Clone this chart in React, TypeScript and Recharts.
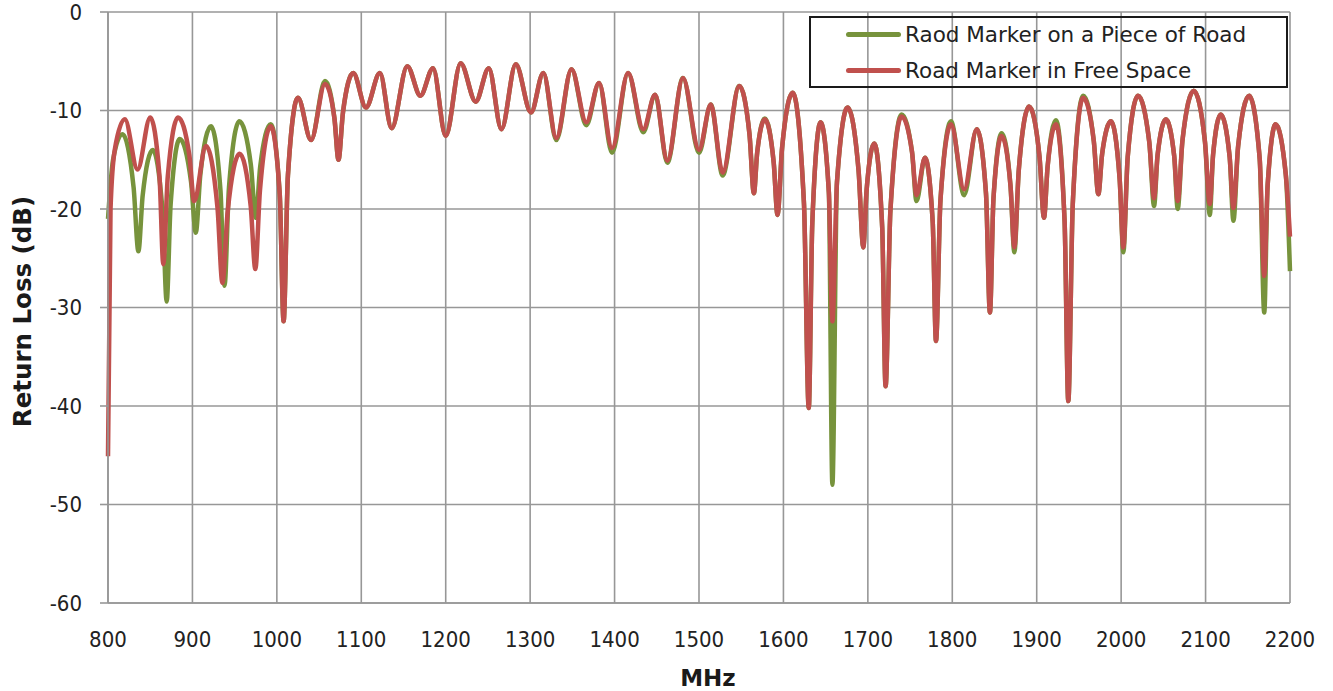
import { LineChart, Line, XAxis, YAxis, CartesianGrid, Label } from 'recharts';

// frequency ticks (MHz) and return loss ticks (dB)
const xTicks = [800, 900, 1000, 1100, 1200, 1300, 1400, 1500, 1600, 1700, 1800, 1900, 2000, 2100, 2200];
const yTicks = [-60, -50, -40, -30, -20, -10, 0];

const seriesNames = ['Raod Marker on a Piece of Road', 'Road Marker in Free Space'];
const seriesColors = ['#77933C', '#C0504D'];

// [MHz, dB]. below ~1000 MHz the two traces differ
const freeSpaceHead: [number, number][] = [
  [800, -45.1], [803, -20], [808, -14], [820, -10.9], [835, -16.0], [850, -10.7], [861, -16.7],
  [865.5, -25.6], [870.8, -16.7], [883, -10.7], [896.3, -14.5], [902, -19.2], [916, -13.6],
  [929.7, -19.9], [935.5, -27.5], [941.7, -20.3], [956, -14.4], [969, -19.7], [974.5, -26.1],
  [980, -18.1], [992.7, -11.6],
];

const roadHead: [number, number][] = [
  [800, -21], [806, -15], [817, -12.4], [830.3, -17.8], [836, -24.3], [841.1, -18.6], [853, -14.0],
  [864.6, -20.2], [869.5, -29.4], [874.2, -19.5], [885, -12.9], [898.3, -17.2], [904, -22.4],
  [909.4, -16.5], [922, -11.6], [933.2, -18.1], [938, -27.8], [943.3, -17.8], [955.5, -11.1],
  [969.2, -15.5], [975, -20.9], [980.3, -15.7], [992.7, -11.4],
];

// above ~1000 MHz both traces follow the same path (free space values)
const sharedTail: [number, number][] = [
  [1003.4, -18.5], [1008, -31.4], [1013.1, -16.6], [1025, -8.7], [1040.5, -13.0], [1057, -7.3],
  [1068.2, -10.8], [1073, -15.0], [1078.3, -10.2], [1090.5, -6.2], [1105.5, -9.7], [1122, -6.2],
  [1136, -11.8], [1154.5, -5.5], [1170, -8.5], [1185, -5.7], [1200, -12.6], [1217.7, -5.2],
  [1235.5, -9.1], [1251, -5.7], [1266, -11.9], [1283, -5.3], [1301, -10.2], [1315.6, -6.2],
  [1331, -12.8], [1349, -5.8], [1366.5, -11.2], [1381.6, -7.2], [1397, -13.8], [1416, -6.2],
  [1434, -11.9], [1448, -8.4], [1462.5, -15.1], [1481, -6.7], [1500, -14.0], [1514, -9.4],
  [1528, -16.3], [1547.7, -7.5], [1559.8, -12.4], [1565, -18.4], [1568.9, -14.3], [1578, -10.9],
  [1588.5, -15.3], [1593, -20.6], [1598.4, -13.8], [1611, -8.2], [1624.3, -19.4], [1630, -40.2],
  [1634.2, -21.4], [1644, -11.2], [1653.8, -18.3], [1658, -31.4], [1663.4, -17.3], [1676, -9.7],
  [1689, -16.1], [1694.6, -23.9], [1698.5, -18.1], [1707.6, -13.35], [1717, -21.9], [1721, -38.0],
  [1726.7, -20.2], [1740, -10.6], [1752.3, -14.2], [1757.6, -18.6], [1767.6, -14.8], [1776.8, -21.3],
  [1780.7, -33.4], [1786, -19.1], [1798.5, -11.4], [1814, -18.0], [1829, -11.9], [1839.9, -18.4],
  [1844.6, -30.5], [1848.8, -18.9], [1858.5, -12.6], [1869, -17.7], [1873.5, -23.9], [1878.8, -16.0],
  [1891, -9.6], [1903.3, -14.7], [1908.6, -20.9], [1912.9, -15.7], [1922.8, -11.4], [1933, -21.2],
  [1937.4, -39.5], [1942.7, -19.5], [1955, -8.7], [1967.6, -13.1], [1973, -18.5], [1977.5, -14.4],
  [1988, -11.1], [1998.2, -16.9], [2002.6, -23.9], [2007.8, -14.7], [2020, -8.5], [2033.3, -13.2],
  [2039, -18.9], [2043.2, -14.5], [2053, -10.9], [2062.8, -14.6], [2067, -19.2], [2072.7, -13.0],
  [2086, -8.0], [2099.3, -13.2], [2105, -19.5], [2108.9, -14.5], [2118, -10.4], [2128.5, -14.7],
  [2133, -19.9], [2138.6, -13.6], [2151.6, -8.5], [2164.1, -14.9], [2169.5, -26.8], [2173.5, -17.6],
  [2183, -11.4], [2195, -16.5], [2200, -22.8],
];

// places where the on-road trace goes its own way (mostly deeper nulls)
const roadDiffs: [number, number][] = [
  [1057, -7.0], [1331, -13.0], [1366.5, -11.5], [1397, -14.3], [1434, -12.2], [1462.5, -15.3],
  [1500, -14.3], [1528, -16.6], [1578, -10.8], [1658, -48.0], [1740, -10.4], [1757.6, -19.2],
  [1798.5, -11.1], [1814, -18.6], [1858.5, -12.3], [1873.5, -24.4], [1922.8, -11.0], [1955, -8.5],
  [2002.6, -24.4], [2039, -19.7], [2067, -20.0], [2105, -20.6], [2133, -21.2], [2169.5, -30.5],
  [2200, -26.3],
];

const TICK_FONT = "'DejaVu Sans Condensed', 'Open Sans', sans-serif";
const FONT = "'DejaVu Sans', Verdana, sans-serif";

const YTitle = ({ viewBox }: any) => {
  const cy = viewBox ? viewBox.y + viewBox.height / 2 + 4 : 312;
  return (
    <text x={31} y={cy} transform={`rotate(-90 31 ${cy})`} textAnchor="middle"
      style={{ fontFamily: FONT, fontSize: 24.5, fontWeight: 'bold', fill: '#1a1a1a' }}>
      Return Loss (dB)
    </text>
  );
};

const XTitle = () => (
  <text x={708} y={686} textAnchor="middle"
    style={{ fontFamily: FONT, fontSize: 23, fontWeight: 'bold', fill: '#1a1a1a' }}>
    MHz
  </text>
);

export default function App() {
  const toPoints = (rows: [number, number][]) => rows.map(([f, db]) => ({ f, db }));
  const diffs = new Map(roadDiffs);
  const freeSpace = toPoints([...freeSpaceHead, ...sharedTail]);
  const road = toPoints([...roadHead, ...sharedTail.map(([f, db]) => [f, diffs.get(f) ?? db] as [number, number])]);
  const axisTick = { fontFamily: TICK_FONT, fontSize: 22, fill: '#222' };

  return (
    <div style={{ position: 'absolute', left: 0, top: 0, width: 1333, height: 691, background: '#fff' }}>
      <LineChart width={1333} height={691} margin={{ top: 12, right: 43, bottom: 0, left: 0 }}>
        <CartesianGrid stroke="#979797" strokeWidth={1.6} />
        <XAxis type="number" dataKey="f" domain={[800, 2200]} ticks={xTicks} interval={0}
          height={88} tick={axisTick} tickLine={false} tickMargin={22}
          axisLine={{ stroke: '#979797', strokeWidth: 1.6 }}>
          <Label content={<XTitle />} />
        </XAxis>
        <YAxis type="number" domain={[-60, 0]} ticks={yTicks} interval={0} width={108}
          tick={axisTick} tickSize={8} tickMargin={18}
          tickLine={{ stroke: '#979797', strokeWidth: 1.6 }}
          axisLine={{ stroke: '#979797', strokeWidth: 1.6 }}>
          <Label content={<YTitle />} />
        </YAxis>
        <Line data={road} dataKey="db" name={seriesNames[0]} type="monotone" stroke={seriesColors[0]}
          strokeWidth={4.5} dot={false} isAnimationActive={false} />
        <Line data={freeSpace} dataKey="db" name={seriesNames[1]} type="monotone" stroke={seriesColors[1]}
          strokeWidth={4.5} dot={false} isAnimationActive={false} />
      </LineChart>

      <div style={{ position: 'absolute', left: 809, top: 16, width: 479, height: 72, boxSizing: 'border-box',
        border: '2px solid #1a1a1a', fontFamily: FONT, fontSize: 21.5, color: '#222' }}>
        {seriesNames.map((name, i) => (
          <div key={name} style={{ position: 'absolute', left: 35, top: i === 0 ? 1 : 37, height: 30,
            display: 'flex', alignItems: 'center', whiteSpace: 'nowrap' }}>
            <span style={{ display: 'inline-block', width: 55, height: 5, borderRadius: 2.5,
              background: seriesColors[i], marginRight: 4 }} />
            <span>{name}</span>
          </div>
        ))}
      </div>
    </div>
  );
}
